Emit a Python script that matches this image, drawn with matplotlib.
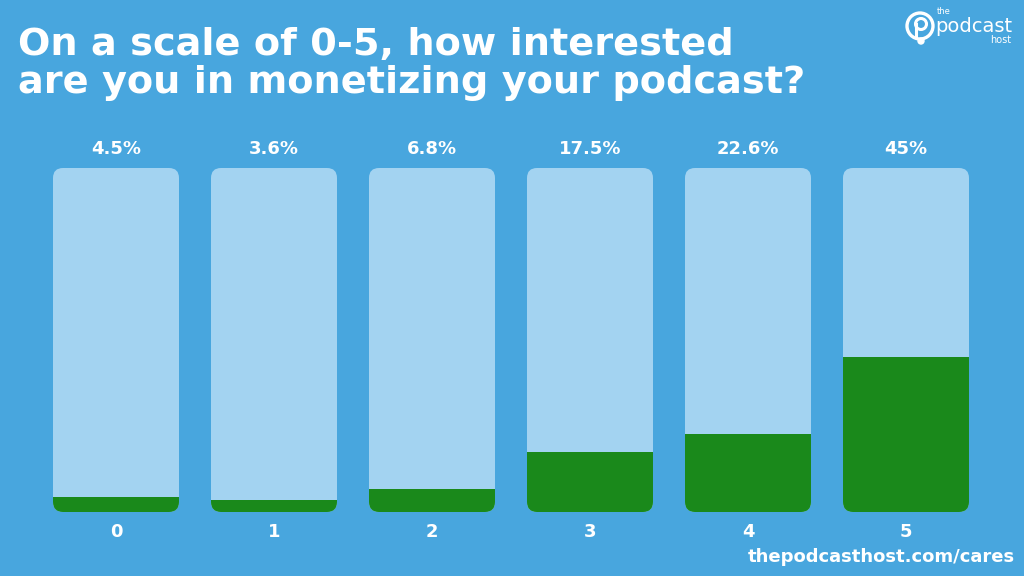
"""Interest in monetizing podcasts - bar chart"""

import matplotlib
matplotlib.use("Agg")
from matplotlib import pyplot as plt
from matplotlib.patches import FancyBboxPatch, Rectangle, Circle


# Dati del grafico
livelli = ["0", "1", "2", "3", "4", "5"]
percentuali = [4.5, 3.6, 6.8, 17.5, 22.6, 45]
etichette = ["4.5%", "3.6%", "6.8%", "17.5%", "22.6%", "45%"]

SFONDO = "#48A6DE"
CHIARO = "#A3D3F1"
VERDE = "#1A891B"

W, H = 1024, 576
fig = plt.figure(figsize=(W / 100, H / 100), dpi=100, facecolor=SFONDO)

# Assi in pixel: barre da y=168 a y=512
ax_left, ax_right = 37, 985
ax_bottom, ax_top = 512, 168
ax = fig.add_axes([ax_left / W, (H - ax_bottom) / H,
                   (ax_right - ax_left) / W, (ax_bottom - ax_top) / H])
ax.set_xlim(-0.5, 5.5)
ax.set_ylim(0, 100)
ax.axis("off")

larghezza = 126 / 158
px_x = (ax_right - ax_left) / 6      # pixel per unita x
px_y = (ax_bottom - ax_top) / 100    # pixel per unita y
raggio = 10 / px_x
aspetto = px_x / px_y

for i, val in enumerate(percentuali):
    x0 = i - larghezza / 2
    sfondo = FancyBboxPatch((x0, 0), larghezza, 100,
                            boxstyle=f"round,pad=0,rounding_size={raggio}",
                            mutation_aspect=aspetto, facecolor=CHIARO,
                            edgecolor="none")
    ax.add_patch(sfondo)
    verde = FancyBboxPatch((x0, 0), larghezza, 100,
                           boxstyle=f"round,pad=0,rounding_size={raggio}",
                           mutation_aspect=aspetto, facecolor=VERDE,
                           edgecolor="none")
    ax.add_patch(verde)
    verde.set_clip_path(Rectangle((x0, 0), larghezza, val, transform=ax.transData))
    ax.text(i, 102.8, etichette[i], ha="center", va="bottom", color="white",
            fontsize=13, fontweight="bold")
    ax.text(i, -3.2, livelli[i], ha="center", va="top", color="white",
            fontsize=13, fontweight="bold")

# Titolo
fig.text(18 / W, 1 - 55 / H, "On a scale of 0-5, how interested",
         color="white", fontsize=27.5, fontweight="bold", va="baseline")
fig.text(18 / W, 1 - 93 / H, "are you in monetizing your podcast?",
         color="white", fontsize=27.5, fontweight="bold", va="baseline")

# Piede
fig.text(1015 / W, 1 - 557 / H, "thepodcasthost.com/cares", color="white",
         fontsize=13, fontweight="bold", ha="right", va="center")

# Logo
logo = fig.add_axes([0, 0, 1, 1], facecolor="none")
logo.set_xlim(0, W)
logo.set_ylim(H, 0)
logo.axis("off")
logo.add_patch(Circle((920, 26), 13, fill=False, edgecolor="white", linewidth=2.4))
logo.add_patch(Circle((921, 24), 5.5, fill=False, edgecolor="white", linewidth=2.2))
logo.plot([915.5, 915.5], [24, 37], color="white", linewidth=2.2)
logo.add_patch(Circle((921, 41), 3, color="white"))
logo.text(937, 12, "the", color="white", fontsize=6, va="center", ha="left")
logo.text(935, 26, "podcast", color="white", fontsize=14, va="center", ha="left")
logo.text(1011, 40, "host", color="white", fontsize=7, va="center", ha="right")

fig.savefig("out.png", dpi=100, facecolor=SFONDO)
